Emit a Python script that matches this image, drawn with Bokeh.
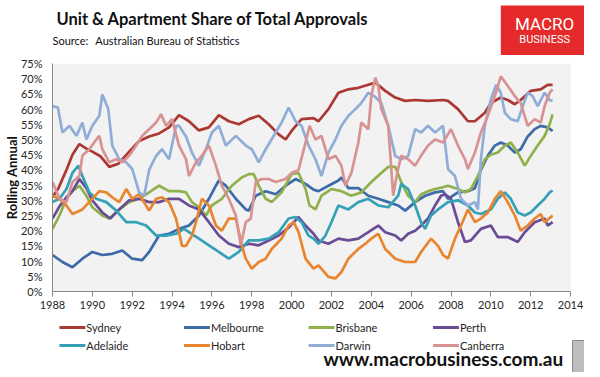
from bokeh.plotting import figure
from bokeh.layouts import column
from bokeh.models import FixedTicker, PrintfTickFormatter, Range1d
from bokeh.core.properties import value
from bokeh.embed import file_html
from bokeh.resources import INLINE

# ---------------- data (% of total approvals) ----------------
syd_x = [1988.0, 1988.3, 1988.7, 1989.0, 1989.35, 1989.7, 1990.0, 1990.4, 1990.85, 1991.3, 1991.85,
         1992.35, 1992.85, 1993.35, 1993.85, 1994.35, 1994.85, 1995.35, 1995.85, 1996.35, 1996.85,
         1997.35, 1997.85, 1998.35, 1998.85, 1999.35, 1999.7, 2000.0, 2000.5, 2001.1, 2001.35,
         2001.85, 2002.35, 2002.85, 2003.35, 2003.85, 2004.2, 2004.7, 2005.2, 2005.7, 2006.2,
         2006.85, 2007.6, 2007.85, 2008.35, 2008.85, 2009.2, 2009.7, 2010.0, 2010.5, 2010.85,
         2011.2, 2011.5, 2012.0, 2012.5, 2012.85, 2013.1]
syd_y = [31, 34, 40, 45, 48.5, 47, 46, 44.5, 41, 42, 46,
         49.5, 51, 52, 54, 58, 56, 53, 54, 58, 56,
         55, 56.7, 57.8, 55, 51.7, 50, 52.8, 56.7, 57, 56,
         60, 65.4, 66.5, 67, 68, 68.7, 66, 63.8, 62.7, 63,
         62.7, 63, 62.7, 60, 56, 56, 58.8, 62, 63.8, 63,
         61.6, 63, 66, 66.5, 68, 68]

mel_x = [1988.0, 1988.5, 1989.0, 1989.5, 1990.0, 1990.5, 1991.0, 1991.5, 1992.0, 1992.5, 1992.85,
         1993.35, 1993.85, 1994.35, 1994.85, 1995.35, 1995.85, 1996.2, 1996.35, 1996.7, 1997.2,
         1997.7, 1997.85, 1998.2, 1998.7, 1999.2, 1999.7, 2000.2, 2000.7, 2001.1, 2001.35,
         2001.85, 2002.35, 2002.5, 2002.85, 2003.35, 2003.85, 2004.35, 2004.85, 2005.35, 2005.7,
         2006.2, 2006.7, 2007.2, 2007.6, 2007.85, 2008.35, 2008.85, 2009.2, 2009.5, 2009.85,
         2010.2, 2010.5, 2010.85, 2011.2, 2011.5, 2011.85, 2012.2, 2012.5, 2012.85, 2013.1]
mel_y = [12, 9.7, 8, 10.8, 13, 12, 12.4, 13.5, 10.8, 10.3, 13,
         18.4, 19, 20.6, 21.7, 25, 30.5, 34.8, 36.5, 34.8, 30.5,
         27, 26.6, 31.5, 33, 32, 34.8, 37, 35.4, 33.5, 33,
         34.8, 36.5, 37.5, 34, 34, 31.5, 30.5, 29.4, 28.3, 26.6,
         29.4, 31.5, 32.6, 33, 30.5, 32.6, 33, 34, 40, 44.7,
         48, 49, 48, 45.7, 46.8, 51, 53.4, 54.5, 54, 52.8]

bri_x = [1988.0, 1988.35, 1988.7, 1989.0, 1989.35, 1989.7, 1990.0, 1990.5, 1990.85, 1991.35, 1991.85,
         1992.35, 1992.85, 1993.35, 1993.85, 1994.35, 1994.7, 1995.0, 1995.35, 1995.7, 1996.0,
         1996.5, 1997.0, 1997.5, 1997.85, 1998.1, 1998.35, 1998.7, 1999.0, 1999.5, 2000.0,
         2000.35, 2000.7, 2000.9, 2001.2, 2001.5, 2002.0, 2002.5, 2003.0, 2003.5, 2004.0,
         2004.5, 2004.85, 2005.2, 2005.5, 2005.85, 2006.2, 2006.5, 2006.85, 2007.2, 2007.6,
         2007.85, 2008.35, 2008.7, 2009.0, 2009.35, 2009.7, 2010.0, 2010.35, 2010.7, 2011.0,
         2011.35, 2011.7, 2012.0, 2012.35, 2012.7, 2012.95, 2013.1]
bri_y = [20.6, 25, 30.5, 33, 34.8, 31.5, 27.7, 25, 24, 27, 29.4,
         30.5, 32.6, 34.8, 33, 33, 32.6, 29.4, 27.7, 25, 28.3,
         30.5, 34.8, 37.5, 38.6, 38.6, 34.8, 30.5, 29.4, 32.6, 38.6,
         39, 33.7, 28.3, 27, 31.5, 33.7, 33, 31.5, 32.6, 36,
         39, 41, 41, 36, 31.5, 29.4, 32, 33, 33.7, 34.3,
         34.8, 33.7, 32.6, 33.7, 38, 43.5, 45, 45.7, 48, 49,
         45.7, 41.4, 44.6, 48, 51.2, 55, 58.3]

per_x = [1988.0, 1988.35, 1988.7, 1989.0, 1989.35, 1989.7, 1990.0, 1990.5, 1990.9, 1991.35, 1991.85,
         1992.35, 1992.85, 1993.35, 1993.85, 1994.35, 1994.85, 1995.35, 1995.85, 1996.35, 1996.85,
         1997.35, 1997.85, 1998.35, 1998.85, 1999.35, 1999.85, 2000.35, 2000.7, 2001.1, 2001.35,
         2001.85, 2002.35, 2002.85, 2003.35, 2003.85, 2004.35, 2004.7, 2005.2, 2005.5, 2005.85,
         2006.2, 2006.5, 2006.85, 2007.2, 2007.5, 2007.7, 2008.0, 2008.35, 2008.7, 2009.0,
         2009.5, 2010.0, 2010.35, 2010.85, 2011.35, 2011.7, 2012.2, 2012.7, 2012.85, 2013.1]
per_y = [24, 28, 31, 33, 37, 34, 30, 26, 24, 27, 30,
         30.5, 29.4, 29.4, 30.5, 30.5, 28.3, 27, 22.8, 18.4, 15.7,
         14.6, 15.7, 15.2, 16.8, 18.4, 21, 24.5, 21.7, 19, 16.8,
         15.7, 17.4, 16.8, 17.4, 19.5, 21.7, 19.5, 18.4, 16.8, 19,
         20, 21.7, 24, 28.3, 31.5, 32, 30.5, 22.8, 16.3, 16.8,
         20.6, 21.7, 17.9, 17.9, 16.3, 19.5, 22.8, 24, 21.7, 22.8]

ade_x = [1988.0, 1988.35, 1988.7, 1989.0, 1989.3, 1989.5, 1989.85, 1990.2, 1990.7, 1991.2, 1991.7,
         1992.2, 1992.7, 1993.2, 1993.7, 1994.2, 1994.6, 1994.85, 1995.35, 1995.85, 1996.35,
         1996.85, 1997.35, 1997.85, 1998.35, 1998.85, 1999.35, 1999.85, 2000.2, 2000.5, 2000.85,
         2001.1, 2001.35, 2001.7, 2002.0, 2002.35, 2002.85, 2003.35, 2003.85, 2004.35, 2004.85,
         2005.35, 2005.5, 2005.85, 2006.2, 2006.5, 2006.7, 2007.0, 2007.35, 2007.85, 2008.35,
         2008.85, 2009.2, 2009.5, 2010.0, 2010.35, 2010.7, 2011.0, 2011.35, 2011.7, 2012.0,
         2012.35, 2012.7, 2012.95, 2013.1]
ade_y = [29.4, 30.5, 33.7, 39, 41.4, 38, 32.6, 30.5, 29.4, 26.6, 22.8,
         22.8, 21.7, 18.4, 18.4, 19, 20.6, 19.5, 17.4, 15.2, 13,
         10.8, 13, 16.8, 16.8, 17.4, 19.5, 24, 24.5, 22.8, 18.4,
         17.4, 15.7, 18.4, 22.8, 28.3, 27, 29.4, 30.5, 28.3, 27.7,
         31.5, 35.4, 33.7, 28.3, 22.8, 20.6, 25, 27, 29.4, 30,
         28.3, 26, 25.5, 27, 30.5, 32.6, 30.5, 26, 25, 26,
         28.3, 30.5, 32.6, 33.2]

hob_x = [1988.0, 1988.35, 1988.7, 1989.0, 1989.5, 1990.0, 1990.35, 1990.7, 1991.0, 1991.35, 1991.7,
         1992.0, 1992.35, 1992.85, 1993.2, 1993.5, 1993.85, 1994.2, 1994.5, 1994.7, 1995.0,
         1995.2, 1995.5, 1995.85, 1996.2, 1996.5, 1996.85, 1997.2, 1997.5, 1997.7, 1998.0,
         1998.35, 1998.7, 1999.0, 1999.5, 1999.85, 2000.1, 2000.35, 2000.7, 2001.1, 2001.35,
         2001.85, 2002.2, 2002.5, 2002.85, 2003.35, 2003.7, 2004.0, 2004.35, 2004.7, 2005.2,
         2005.7, 2006.2, 2006.5, 2007.0, 2007.35, 2007.6, 2007.85, 2008.2, 2008.5, 2008.85,
         2009.2, 2009.5, 2009.85, 2010.2, 2010.5, 2010.85, 2011.2, 2011.5, 2011.85, 2012.2,
         2012.5, 2012.7, 2013.1]
hob_y = [31.5, 30.5, 28.3, 25.5, 27, 30.5, 33, 32.6, 31, 29.4, 33.7,
         30.5, 32, 26.6, 30.5, 31, 29.4, 24, 15, 15, 18.4,
         22.8, 30.5, 28.3, 21.7, 20, 24, 24, 15.2, 10.8, 7.5,
         9.7, 10.8, 14, 17.4, 21.7, 22.8, 19.5, 10.8, 7.5, 8.6,
         4.8, 4.3, 6.4, 10.8, 14, 15.7, 17.4, 19, 14, 10.8,
         9.7, 9.7, 13, 17.4, 15, 12, 10.8, 17.4, 21.7, 27,
         22.8, 24, 26, 30.5, 33, 29.4, 25, 20, 21.7, 24,
         25.5, 22.8, 25]

dar_x = [1988.0, 1988.27, 1988.5, 1988.85, 1989.2, 1989.5, 1989.7, 1990.0, 1990.35, 1990.5, 1990.8,
         1991.0, 1991.35, 1991.7, 1992.0, 1992.35, 1992.6, 1992.85, 1993.2, 1993.5, 1993.85,
         1994.2, 1994.35, 1994.7, 1995.0, 1995.35, 1995.7, 1996.0, 1996.35, 1996.7, 1997.2,
         1997.7, 1998.0, 1998.35, 1998.7, 1999.2, 1999.5, 1999.85, 2000.2, 2000.5, 2000.85,
         2001.2, 2001.5, 2001.85, 2002.2, 2002.5, 2002.85, 2003.2, 2003.5, 2003.85, 2004.2,
         2004.5, 2004.85, 2005.2, 2005.5, 2005.85, 2006.2, 2006.5, 2006.85, 2007.2, 2007.6,
         2007.85, 2008.2, 2008.5, 2008.85, 2009.2, 2009.35, 2009.5, 2009.7, 2010.0, 2010.27,
         2010.5, 2010.7, 2011.0, 2011.35, 2011.6, 2011.85, 2012.1, 2012.35, 2012.7, 2012.95, 2013.1]
dar_y = [61, 60.5, 52.3, 54.5, 51.2, 55.6, 50, 54.5, 57.8, 64.8, 60,
         48, 43.5, 42.5, 40.3, 32.6, 31.5, 40, 44.6, 46.8, 43.5,
         54.5, 54.5, 51, 45.7, 41.4, 46.8, 52.3, 54.5, 48, 51.2,
         48, 46.8, 42.5, 46.8, 52.3, 55.6, 60.5, 56, 54.5, 48,
         43.5, 38, 45.7, 50, 54.5, 57.8, 60, 62, 65.4, 64,
         62, 54.5, 44.6, 43.5, 44.6, 53.4, 52.3, 54.5, 52.3, 54.5,
         40.3, 38, 30.5, 28.3, 29.4, 27, 43.5, 54.5, 63.2, 68,
         65.4, 58.8, 56.7, 56, 61, 65.4, 64.3, 61, 65.4, 63, 62.7]

can_x = [1988.0, 1988.35, 1988.7, 1989.0, 1989.35, 1989.5, 1989.85, 1990.2, 1990.35, 1990.5, 1990.85,
         1991.2, 1991.5, 1991.85, 1992.2, 1992.5, 1992.85, 1993.2, 1993.45, 1993.7, 1994.0,
         1994.35, 1994.7, 1994.85, 1995.2, 1995.5, 1995.85, 1996.2, 1996.5, 1996.85, 1997.2,
         1997.45, 1997.7, 1997.95, 1998.2, 1998.5, 1998.85, 1999.2, 1999.7, 2000.0, 2000.35,
         2000.7, 2000.9, 2001.2, 2001.5, 2001.85, 2002.2, 2002.5, 2002.7, 2003.0, 2003.35,
         2003.5, 2003.85, 2004.0, 2004.2, 2004.35, 2004.5, 2004.85, 2005.1, 2005.27, 2005.5,
         2005.85, 2006.2, 2006.5, 2006.85, 2007.2, 2007.6, 2008.0, 2008.35, 2008.7, 2008.85,
         2009.2, 2009.5, 2009.85, 2010.2, 2010.5, 2010.85, 2011.2, 2011.5, 2011.85, 2012.2,
         2012.5, 2012.7, 2012.95, 2013.1]
can_y = [36, 30.5, 29.4, 36, 38, 44.7, 46.8, 50, 51.2, 46.8, 42.5,
         43.5, 42.5, 44.7, 48, 51.2, 53.4, 55.6, 58.3, 54.5, 56.7,
         48, 43.5, 38, 42.5, 44.7, 48, 41.4, 34.8, 30.5, 25,
         15.2, 22.8, 24, 36, 37, 37, 36, 37, 39, 40,
         49, 54.5, 50, 51.2, 43.5, 44.7, 41.4, 34.8, 39, 49,
         55.6, 53.4, 64.3, 70.3, 67.6, 60, 54.5, 31.5, 38, 44.7,
         43.5, 41.4, 44.7, 48, 50, 49, 53.4, 48, 43.5, 40.3,
         45.7, 52.3, 57.8, 64.3, 70.8, 67.6, 64.3, 62, 54.5, 56.7,
         55.6, 61, 65.4, 66.5]

series_names = ["Sydney", "Melbourne", "Brisbane", "Perth",
                "Adelaide", "Hobart", "Darwin", "Canberra"]
series_colors = ["#AC3833", "#3D6BA8", "#8FB04B", "#6A4C96",
                 "#35A1B7", "#E9842F", "#90ADD8", "#D89292"]
x_ticks = list(range(1988, 2015, 2))
y_ticks = list(range(0, 80, 5))

all_x = [syd_x, mel_x, bri_x, per_x, ade_x, hob_x, dar_x, can_x]
all_y = [syd_y, mel_y, bri_y, per_y, ade_y, hob_y, dar_y, can_y]

FONT = "Lato"
W = 584
LEFT = 50          # width of the y-axis panel (same in every strip)
PX_PER_YEAR = 20   # horizontal scale of the chart


def strip(h, y_top):
    """A blank strip whose data coordinates equal page pixels (y grows downward)."""
    f = figure(width=W, height=h, output_backend="svg", toolbar_location=None, title=None,
               x_range=Range1d(LEFT, W), y_range=Range1d(y_top + h, y_top),
               x_axis_type=None, y_axis_type=None,
               min_border_left=LEFT, min_border_right=0, min_border_top=0, min_border_bottom=0)
    f.outline_line_color = None
    f.background_fill_color = "white"
    f.border_fill_color = "white"
    f.grid.visible = False
    return f


# ---------------- header strip ----------------
top = strip(55, 0)
top.text(x=[54], y=[18], text=["Unit & Apartment Share of Total Approvals"],
         text_font=value(FONT), text_font_style="bold", text_font_size="16.5px",
         text_color="#111111", text_baseline="middle")
top.text(x=[50], y=[40], text=["Source:"],
         text_font=value(FONT), text_font_size="11px", text_color="#111111",
         text_baseline="middle")
top.text(x=[93], y=[40], text=["Australian Bureau of Statistics"],
         text_font=value(FONT), text_font_size="11px", text_color="#111111",
         text_baseline="middle")
top.quad(left=[500], right=[584], top=[5], bottom=[55], fill_color="#E42A2A", line_color=None)
top.text(x=[544], y=[23], text=["MACRO"], text_font=value("Roboto"), text_font_size="17px",
         text_color="white", text_align="center", text_baseline="middle")
top.text(x=[544], y=[39], text=["BUSINESS"], text_font=value("Roboto"), text_font_size="11px",
         text_color="white", text_align="center", text_baseline="middle")

# ---------------- main chart ----------------
x_end = x_ticks[-1] + (W - LEFT - (x_ticks[-1] - x_ticks[0]) * PX_PER_YEAR) / PX_PER_YEAR
p = figure(width=W, height=261, output_backend="svg", toolbar_location=None, title=None,
           x_range=Range1d(x_ticks[0], x_end), y_range=Range1d(y_ticks[0], y_ticks[-1]),
           min_border_left=LEFT, min_border_right=0, min_border_top=8, min_border_bottom=25)
p.background_fill_color = "white"
p.border_fill_color = "white"
p.outline_line_color = None
p.xgrid.visible = False
p.ygrid.visible = False

# grey plot area (axis limits only)
p.quad(left=[x_ticks[0]], right=[x_ticks[-1]], bottom=[y_ticks[0]], top=[y_ticks[-1]],
       fill_color="#F2F2F2", line_color=None)

for xs, ys, c in zip(all_x, all_y, series_colors):
    p.line(xs, ys, line_color=c, line_width=2.7)

p.xaxis.ticker = FixedTicker(ticks=x_ticks)
p.xaxis.bounds = (x_ticks[0], x_ticks[-1])
p.xaxis.minor_tick_line_color = None
p.xaxis.major_tick_out = 5
p.xaxis.major_tick_in = 0
p.xaxis.major_tick_line_color = "#868686"
p.xaxis.axis_line_color = "#868686"
p.xaxis.major_label_standoff = 4
p.xaxis.major_label_text_font = FONT
p.xaxis.major_label_text_font_size = "11px"
p.xaxis.major_label_text_color = "#262626"

p.yaxis.ticker = FixedTicker(ticks=y_ticks)
p.yaxis.formatter = PrintfTickFormatter(format="%d%%")
p.yaxis.minor_tick_line_color = None
p.yaxis.major_tick_line_color = None
p.yaxis.major_tick_out = 0
p.yaxis.major_tick_in = 0
p.yaxis.axis_line_color = "#868686"
p.yaxis.major_label_standoff = 10
p.yaxis.major_label_text_font = FONT
p.yaxis.major_label_text_font_size = "11px"
p.yaxis.major_label_text_color = "#262626"
p.yaxis.axis_label = "Rolling Annual"
p.yaxis.axis_label_text_font = FONT
p.yaxis.axis_label_text_font_style = "bold"
p.yaxis.axis_label_text_font_size = "13px"
p.yaxis.axis_label_text_color = "#111111"
p.yaxis.axis_label_standoff = -2

# ---------------- legend / footer strip ----------------
bot = strip(56, 316)
leg_x = [57 + (i % 4) * 125 for i in range(len(series_names))]
leg_y = [327 + (i // 4) * 18 for i in range(len(series_names))]
bot.segment(x0=leg_x, y0=leg_y, x1=[x + 26 for x in leg_x], y1=leg_y,
            line_color=series_colors, line_width=3)
bot.text(x=[x + 27 for x in leg_x], y=leg_y, text=series_names, text_font=value(FONT),
         text_font_size="11px", text_color="#262626", text_baseline="middle")
bot.text(x=[322], y=[358], text=["www.macrobusiness.com.au"], text_font=value(FONT),
         text_font_style="bold", text_font_size="19px", text_color="#111111",
         text_baseline="middle")
bot.quad(left=[572], right=[584], top=[340], bottom=[372], fill_color="#BDBDBD",
         line_color="#8A8A8A", line_width=1)

layout = column(top, p, bot, spacing=0)
open("out.html", "w").write(file_html(layout, INLINE))
